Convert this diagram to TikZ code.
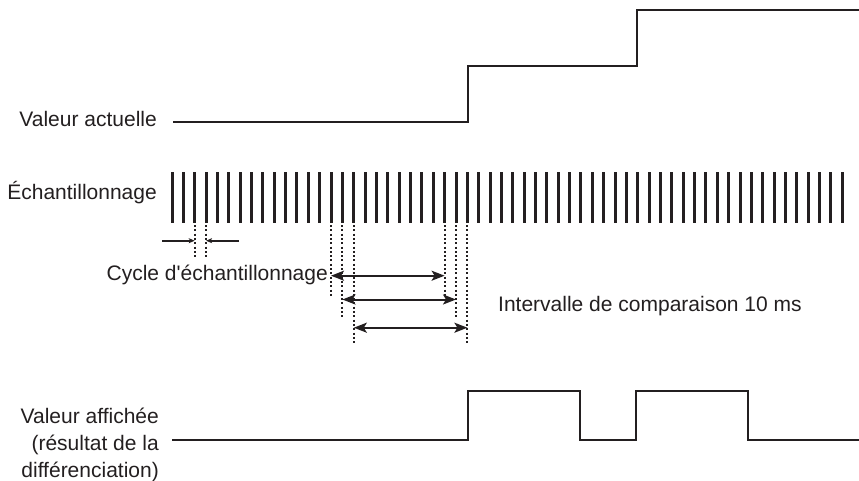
\documentclass[tikz,border=0pt]{standalone}
\usepackage{fontspec}
\setmainfont{Liberation Sans}[Ligatures=TeXOff]
\usetikzlibrary{arrows.meta}
\definecolor{ink}{RGB}{35,31,32}
\begin{document}
\begin{tikzpicture}[x=1pt,y=-1pt,
  lbl/.style={inner sep=0pt,font=\fontsize{21}{27}\selectfont,text=ink},
  signal/.style={draw=ink,line width=2pt,line join=miter},
  tickmark/.style={draw=ink,line width=3pt},
  guide/.style={draw=ink,line width=2pt,dash pattern=on 2pt off 2.3pt},
  span/.style={draw=ink,line width=2pt,{Stealth[length=13pt,width=10pt,inset=3pt]}-{Stealth[length=13pt,width=10pt,inset=3pt]}},
  dim/.style={draw=ink,line width=1.6pt,-{Stealth[length=6pt,width=5pt,inset=1.5pt]}}]
\useasboundingbox (0,0) rectangle (859,480);

% labels
\node[lbl,anchor=base east] (va) at (157,126) {Valeur actuelle};
\node[lbl,anchor=base east] (ech) at (157,199) {Échantillonnage};
\node[lbl,anchor=base east] (cyc) at (328,280) {Cycle d'échantillonnage};
\node[lbl,anchor=base west] (int) at (498,311) {Intervalle de comparaison 10 ms};
\node[lbl,anchor=base east] (vf1) at (159,423) {Valeur affichée};
\node[lbl,anchor=base east] (vf2) at (159,450) {(résultat de la};
\node[lbl,anchor=base east] (vf3) at (159,477) {différenciation)};

% actual value
\coordinate (a0) at (173,122);
\coordinate (a1) at (468,122);
\coordinate (a2) at (468,66);
\coordinate (a3) at (637,66);
\coordinate (a4) at (637,10);
\coordinate (a5) at (859,10);
\draw[signal] (a0) -- (a1) -- (a2) -- (a3) -- (a4) -- (a5);

% sampling ticks
\foreach \k in {0,...,59}
  \draw[tickmark] ({172+11.36*\k},172) -- ({172+11.36*\k},223);

% guide lines for the sampling cycle
\foreach \k in {2,3}
  \draw[guide] ({172+11.36*\k},225) -- ({172+11.36*\k},258);
\coordinate (c0) at (162,240.7);
\coordinate (c1) at (194.7,240.7);
\coordinate (c2) at (239,240.7);
\coordinate (c3) at (206.1,240.7);
\draw[dim] (c0) -- (c1);
\draw[dim] (c2) -- (c3);

% guide lines for comparison intervals
\foreach \k/\e in {14/296,15/317,16/345,24/296,25/317,26/345}
  \draw[guide] ({172+11.36*\k},225) -- ({172+11.36*\k},\e);

\coordinate (i1a) at (331,275.7);
\coordinate (i1b) at (444.6,275.7);
\coordinate (i2a) at (342.4,299.5);
\coordinate (i2b) at (456,299.5);
\coordinate (i3a) at (353.8,327.7);
\coordinate (i3b) at (467.4,327.7);
\draw[span] (i1a) -- (i1b);
\draw[span] (i2a) -- (i2b);
\draw[span] (i3a) -- (i3b);

% displayed value
\coordinate (d0) at (172,440);
\coordinate (d1) at (468,440);
\coordinate (d2) at (468,391);
\coordinate (d3) at (580,391);
\coordinate (d4) at (580,440);
\coordinate (d5) at (636,440);
\coordinate (d6) at (636,391);
\coordinate (d7) at (748,391);
\coordinate (d8) at (748,440);
\coordinate (d9) at (859,440);
\draw[signal] (d0) -- (d1) -- (d2) -- (d3) -- (d4) -- (d5) -- (d6) -- (d7) -- (d8) -- (d9);
\end{tikzpicture}
\end{document}
